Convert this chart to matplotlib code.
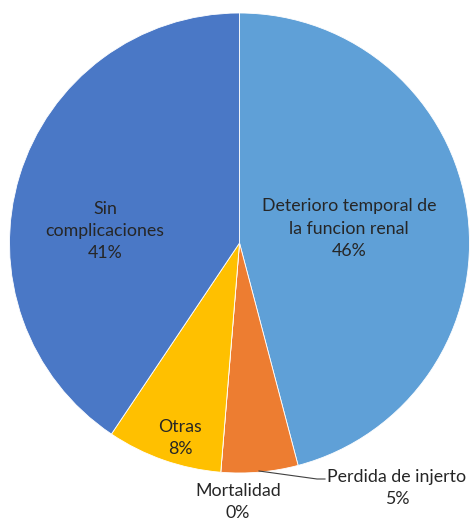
import matplotlib.pyplot as plt

categorias = ["Deterioro temporal de\nla funcion renal", "Perdida de injerto",
              "Mortalidad", "Otras", "Sin\ncomplicaciones"]
porcentajes = [45.9, 5.4, 0.0, 8.1, 40.6]
colores = ["#5FA0D7", "#ED7D31", "#A5A5A5", "#FFC000", "#4A78C6"]

# posiciones de las etiquetas (pixeles, origen abajo a la izquierda)
pos_etiquetas = [(349, 292), (397, 33), (238, 19), (180, 83), (105, 290)]

W, H = 470, 521
fig = plt.figure(figsize=(W / 100, H / 100), dpi=100)
ax = fig.add_axes([0, 0, 1, 1])

ax.pie(porcentajes, colors=colores, startangle=90, counterclock=False,
       center=(239.5, H - 243), radius=230, frame=True,
       wedgeprops={"edgecolor": "white", "linewidth": 0.6})
ax.set_xlim(0, W)
ax.set_ylim(0, H)
ax.set_aspect("equal")
ax.axis("off")

for cat, val, (x, y) in zip(categorias, porcentajes, pos_etiquetas):
    ax.text(x, y, f"{cat}\n{val:.0f}%", ha="center", va="center",
            fontsize=12.8, family="Lato", color="#262626", linespacing=1.5)

# linea guia para "Perdida de injerto"
ax.plot([259, 317, 325], [H - 471, H - 479, H - 479], color="#404040", lw=0.8)

fig.savefig("out.png", dpi=100)
